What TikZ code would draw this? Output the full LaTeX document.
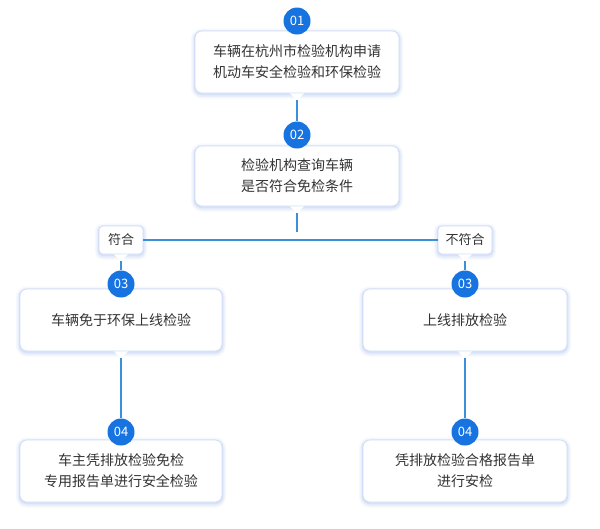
\documentclass[tikz,border=0pt]{standalone}
\usepackage{fontspec}
\setmainfont{Noto Sans CJK SC}
\definecolor{stepblue}{HTML}{1673E0}
\definecolor{linkblue}{HTML}{3C8FDB}
\definecolor{glow}{HTML}{AFC3F0}
\definecolor{textgray}{HTML}{333333}
\newcommand{\tailtip}[1]{\fill[white] ([xshift=-7pt]#1.south) -- ([yshift=-7pt]#1.south) -- ([xshift=7pt]#1.south) -- cycle;}
\begin{document}
\begin{tikzpicture}[x=1pt, y=-1pt,
    card/.style={rectangle, rounded corners=7pt, fill=white, draw=glow!60, line width=0.6pt,
      preaction={draw=glow, line width=8pt, opacity=0.12, transform canvas={yshift=-1.5pt}},
      preaction={draw=glow, line width=5pt, opacity=0.18, transform canvas={yshift=-1.5pt}},
      preaction={draw=glow, line width=2.5pt, opacity=0.3, transform canvas={yshift=-1pt}},
      align=center, text=textgray, font=\fontsize{14}{21}\selectfont, inner sep=0pt},
    tag/.style={card, font=\fontsize{13}{15}\selectfont, minimum height=28pt, rounded corners=4pt},
    badge/.style={circle, fill=stepblue, text=white, minimum size=27pt, inner sep=0pt, font=\fontsize{13}{13}\selectfont},
    link/.style={linkblue, line width=1.3pt}
]
    \useasboundingbox (0,0) rectangle (600,528);

    % Karten
    \node[card, minimum width=204pt, minimum height=62pt] (apply) at (297,62) {车辆在杭州市检验机构申请\\机动车安全检验和环保检验};
    \node[card, minimum width=204pt, minimum height=60pt] (check) at (297,176) {检验机构查询车辆\\是否符合免检条件};
    \node[tag, minimum width=44pt] (yes) at (121,240) {符合};
    \node[tag, minimum width=54pt] (no) at (465,240) {不符合};
    \node[card, minimum width=202pt, minimum height=62pt] (exempt) at (121,320) {车辆免于环保上线检验};
    \node[card, minimum width=204pt, minimum height=62pt] (online) at (465,320) {上线排放检验};
    \node[card, minimum width=202pt, minimum height=62pt] (safety) at (121,471) {车主凭排放检验免检\\专用报告单进行安全检验};
    \node[card, minimum width=204pt, minimum height=62pt] (report) at (465,471) {凭排放检验合格报告单\\进行安检};
    \tailtip{apply} \tailtip{check} \tailtip{yes} \tailtip{no} \tailtip{exempt} \tailtip{online}

    % Nummern
    \node[badge] (s1) at (297,21) {01};
    \node[badge] (s2) at (297,135) {02};
    \node[badge] (s3a) at (121,284) {03};
    \node[badge] (s3b) at (465,284) {03};
    \node[badge] (s4a) at (121,432) {04};
    \node[badge] (s4b) at (465,432) {04};

    % Verbindungen
    \coordinate (split) at (297,232);
    \draw[link] ([yshift=-7pt]apply.south) -- (s2);
    \draw[link] ([yshift=-7pt]check.south) -- (split);
    \draw[link] (yes.east) -- (no.west);
    \draw[link] ([yshift=-7pt]yes.south) -- (s3a);
    \draw[link] ([yshift=-7pt]no.south) -- (s3b);
    \draw[link] ([yshift=-7pt]exempt.south) -- (s4a);
    \draw[link] ([yshift=-7pt]online.south) -- (s4b);
\end{tikzpicture}
\end{document}
